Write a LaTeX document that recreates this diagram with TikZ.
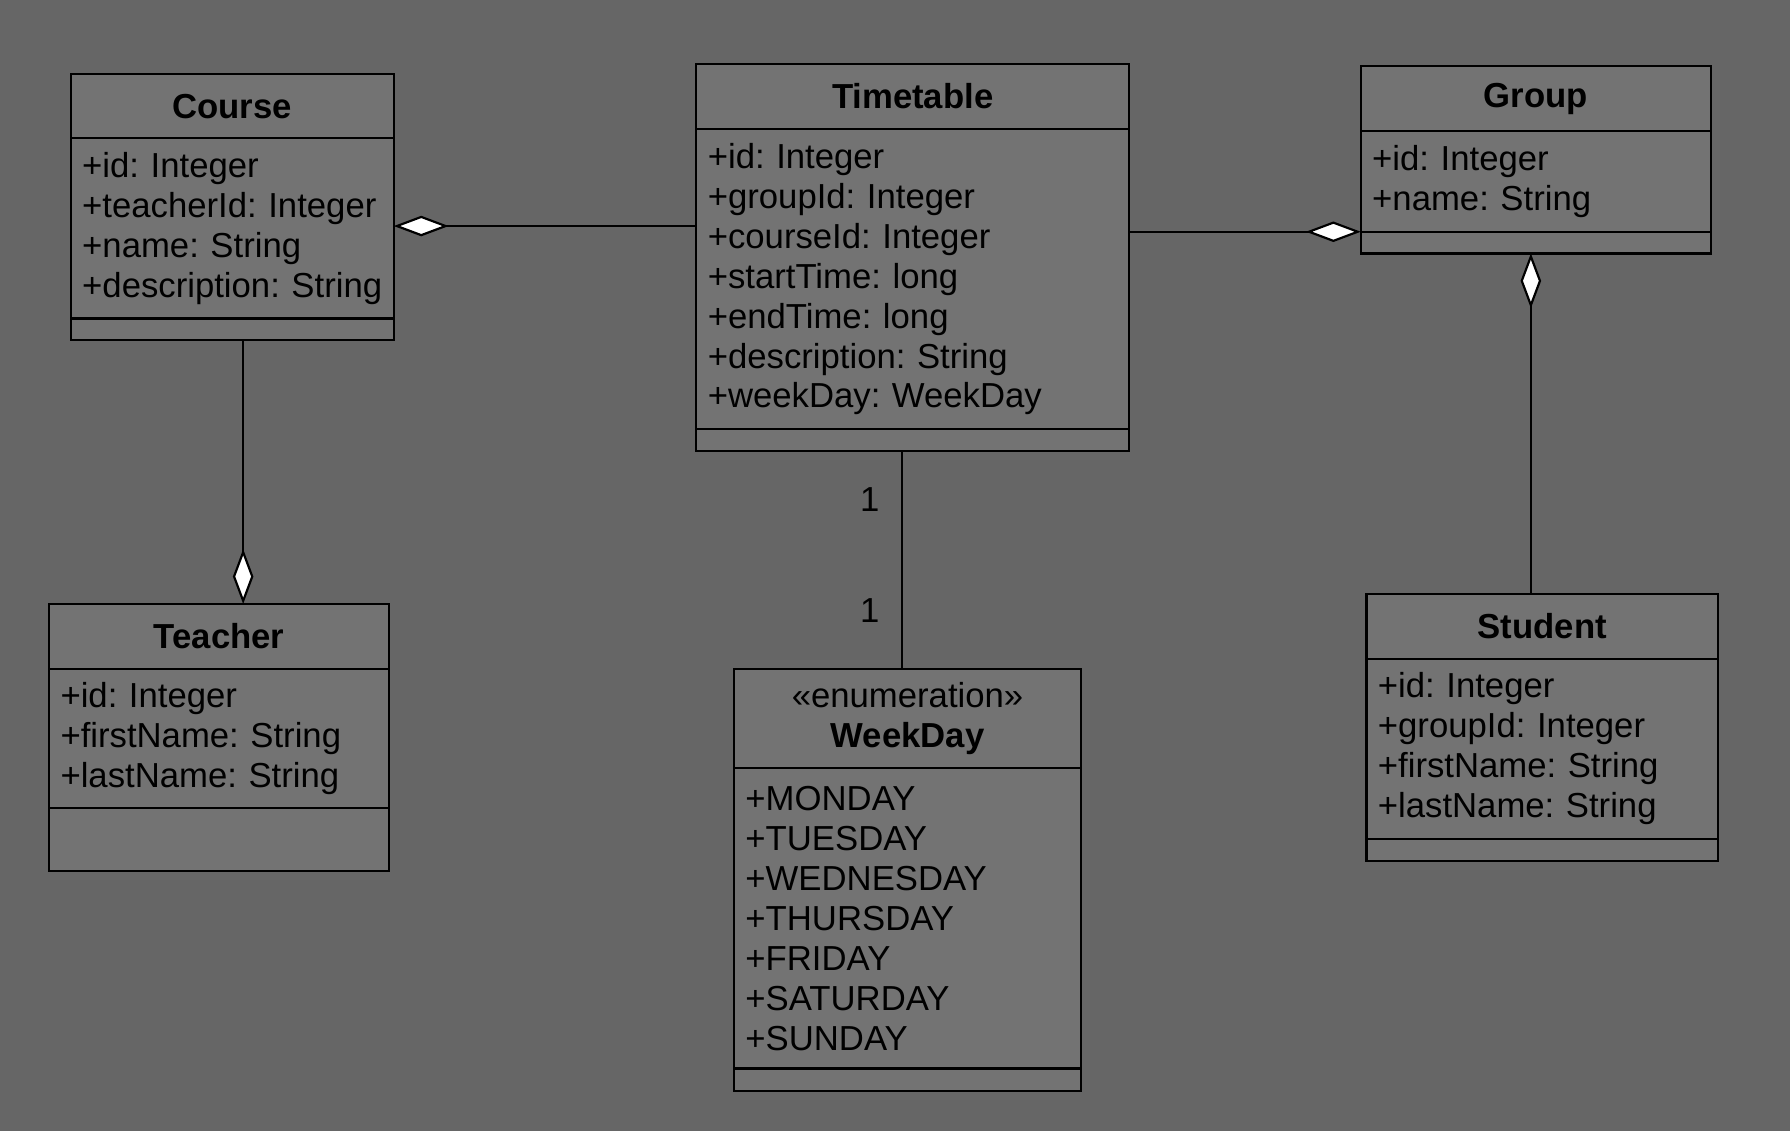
\documentclass[tikz,border=0pt]{standalone}
\usepackage{fontspec}
\setmainfont{Liberation Sans}
\usetikzlibrary{positioning,arrows.meta}
\definecolor{bggray}{HTML}{666666}
\definecolor{boxgray}{HTML}{737373}
\newcommand\umlfont{\fontsize{30.4}{35}\selectfont\frenchspacing\hyphenpenalty=10000\relax}
\tikzset{
	cls/.style={draw=black,fill=boxgray,line width=1.9pt,outer sep=0pt,inner sep=0pt},
	head/.style={cls,align=center,font=\umlfont\bfseries},
	attrs/.style={cls,align=left,inner xsep=10pt,text width=#1,font=\umlfont},
	oper/.style={cls},
	aggr/.style={line width=1.9pt,-{Diamond[fill=white,length=48pt,width=18pt]}},
	lbl/.style={inner sep=0pt,font=\umlfont}
}
\begin{document}
\begin{tikzpicture}[x=1pt,y=-1pt]
	\fill[bggray] (0,0) rectangle (1568,991);
	% Course
	\node [head,minimum width=283pt,minimum height=56pt,anchor=north west] (course) at (62,65) {Course};
	\node [attrs=263pt,minimum height=158pt,below=0pt of course] (course-attr) {+id: Integer\\+teacherId: Integer\\+name: String\\+description: String};
	\node [oper,minimum width=283pt,minimum height=19pt,below=0pt of course-attr] (course-op) {};
	% Timetable
	\node [head,minimum width=379pt,minimum height=57pt,anchor=north west] (timetable) at (610,56) {Timetable};
	\node [attrs=359pt,minimum height=263pt,below=0pt of timetable] (timetable-attr) {+id: Integer\\+groupId: Integer\\+courseId: Integer\\+startTime: long\\+endTime: long\\+description: String\\+weekDay: WeekDay};
	\node [oper,minimum width=379pt,minimum height=19pt,below=0pt of timetable-attr] (timetable-op) {};
	% Group
	\node [head,minimum width=307pt,minimum height=57pt,anchor=north west] (group) at (1192,58) {Group};
	\node [attrs=287pt,minimum height=88pt,below=0pt of group] (group-attr) {+id: Integer\\+name: String};
	\node [oper,minimum width=307pt,minimum height=19pt,below=0pt of group-attr] (group-op) {};
	% Teacher
	\node [head,minimum width=298pt,minimum height=57pt,anchor=north west] (teacher) at (43,529) {Teacher};
	\node [attrs=278pt,minimum height=122pt,below=0pt of teacher] (teacher-attr) {+id: Integer\\+firstName: String\\+lastName: String};
	\node [oper,minimum width=298pt,minimum height=55pt,below=0pt of teacher-attr] (teacher-op) {};
	% WeekDay
	\node [head,minimum width=304pt,minimum height=87pt,anchor=north west] (weekday) at (643,586) {{\mdseries «enumeration»}\\WeekDay};
	\node [attrs=284pt,minimum height=263pt,below=0pt of weekday] (weekday-attr) {+MONDAY\\+TUESDAY\\+WEDNESDAY\\+THURSDAY\\+FRIDAY\\+SATURDAY\\+SUNDAY};
	\node [oper,minimum width=304pt,minimum height=20pt,below=0pt of weekday-attr] (weekday-op) {};
	% Student
	\node [head,minimum width=308pt,minimum height=57pt,anchor=north west] (student) at (1197,520) {Student};
	\node [attrs=288pt,minimum height=158pt,below=0pt of student] (student-attr) {+id: Integer\\+groupId: Integer\\+firstName: String\\+lastName: String};
	\node [oper,minimum width=308pt,minimum height=19pt,below=0pt of student-attr] (student-op) {};
	% links
	\coordinate (cc) at ([yshift=2pt]course-attr.east);
	\coordinate (ct) at ([xshift=9.5pt]course-op.south);
	\coordinate (gs) at ([xshift=-4.5pt]group-op.south);
	\coordinate (tw) at ([xshift=-9.5pt]timetable-op.south);
	\draw [aggr] (timetable-attr.west |- cc) -- (cc);
	\draw [aggr] (timetable-attr.east |- group-attr.south) -- (group-attr.south west);
	\draw [aggr] (gs |- student.north) -- (gs);
	\draw [aggr] (ct) -- (ct |- teacher.north);
	\draw [line width=1.9pt] (tw) -- node [lbl,pos=.225,xshift=-28pt] {1} node [lbl,pos=.733,xshift=-28pt] {1} (tw |- weekday.north);
\end{tikzpicture}
\end{document}
